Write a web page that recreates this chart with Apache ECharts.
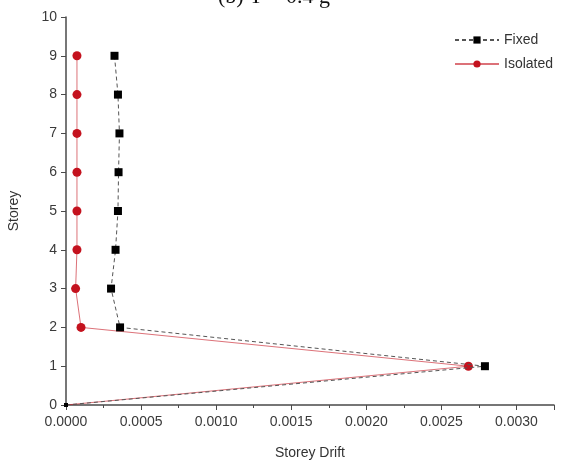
<!DOCTYPE html>
<html>
<head>
<meta charset="utf-8">
<script src="https://cdn.jsdelivr.net/npm/echarts@6/dist/echarts.min.js"></script>
<style>
html,body{margin:0;padding:0;background:#fff;}
#chart{width:566px;height:466px;}
</style>
</head>
<body>
<div id="chart"></div>
<script>
const storeys = [0, 1, 2, 3, 4, 5, 6, 7, 8, 9];
const fixedDrift = [0, 0.00279, 0.00036, 0.00030, 0.00033, 0.000346, 0.00035, 0.000356, 0.000346, 0.000323];
const isolatedDrift = [0, 0.00268, 0.00010, 0.000064, 0.000073, 0.000073, 0.000073, 0.000073, 0.000073, 0.000073];
const seriesNames = ['Fixed', 'Isolated'];
const titleText = '(b) T = 0.4 g';

const chart = echarts.init(document.getElementById('chart'), null, {renderer: 'canvas'});

function pairs(xs) {
  return storeys.map((s, i) => {
    const item = {value: [xs[i], s]};
    if (s === 0) item.symbolSize = 4;
    return item;
  });
}

const axisColor = '#4a4a4a';
const labelColor = '#3a3a3a';
const font = 'Liberation Sans, Arial, sans-serif';

chart.setOption({
  backgroundColor: '#ffffff',
  animation: false,
  title: {
    text: titleText,
    left: 213,
    top: -19,
    textStyle: {fontFamily: 'Liberation Serif, DejaVu Serif, serif', fontSize: 22, fontWeight: 'normal', color: '#111'}
  },
  legend: {
    orient: 'vertical',
    left: 449,
    top: 28,
    itemWidth: 44,
    itemHeight: 9,
    itemGap: 10,
    textStyle: {fontFamily: font, fontSize: 14, color: '#333'},
    data: seriesNames
  },
  grid: {left: 66, right: 12, top: 17, bottom: 61, outerBoundsMode: 'none', containLabel: false},
  xAxis: {
    type: 'value',
    min: 0,
    max: 0.00325,
    interval: 0.0005,
    name: 'Storey Drift',
    nameLocation: 'middle',
    nameGap: 41,
    nameTextStyle: {fontFamily: font, fontSize: 14, color: '#333'},
    axisLine: {show: true, onZero: false, lineStyle: {color: axisColor, width: 1.5}},
    axisTick: {show: true, length: 5, lineStyle: {color: axisColor}},
    minorTick: {show: true, splitNumber: 2, length: 3, lineStyle: {color: axisColor}},
    axisLabel: {
      fontFamily: font, fontSize: 14, color: labelColor, margin: 10,
      showMaxLabel: false,
      formatter: v => v.toFixed(4)
    },
    splitLine: {show: false}
  },
  yAxis: {
    type: 'value',
    min: 0,
    max: 10,
    interval: 1,
    name: 'Storey',
    nameLocation: 'middle',
    nameGap: 45,
    nameTextStyle: {fontFamily: font, fontSize: 14, color: '#333'},
    axisLine: {show: true, onZero: false, lineStyle: {color: axisColor, width: 1.5}},
    axisTick: {show: true, length: 5, lineStyle: {color: axisColor}},
    axisLabel: {fontFamily: font, fontSize: 14, color: labelColor, margin: 9},
    splitLine: {show: false}
  },
  series: [
    {
      name: seriesNames[0],
      type: 'line',
      data: pairs(fixedDrift),
      symbol: 'rect',
      symbolSize: 8,
      itemStyle: {color: '#000'},
      lineStyle: {color: '#555', width: 1, type: [4, 3]},
      z: 3
    },
    {
      name: seriesNames[1],
      type: 'line',
      data: pairs(isolatedDrift),
      symbol: 'circle',
      symbolSize: 9,
      itemStyle: {color: '#c4121e'},
      lineStyle: {color: '#c4121e', width: 1, opacity: 0.6},
      z: 2
    }
  ]
});
</script>
</body>
</html>
